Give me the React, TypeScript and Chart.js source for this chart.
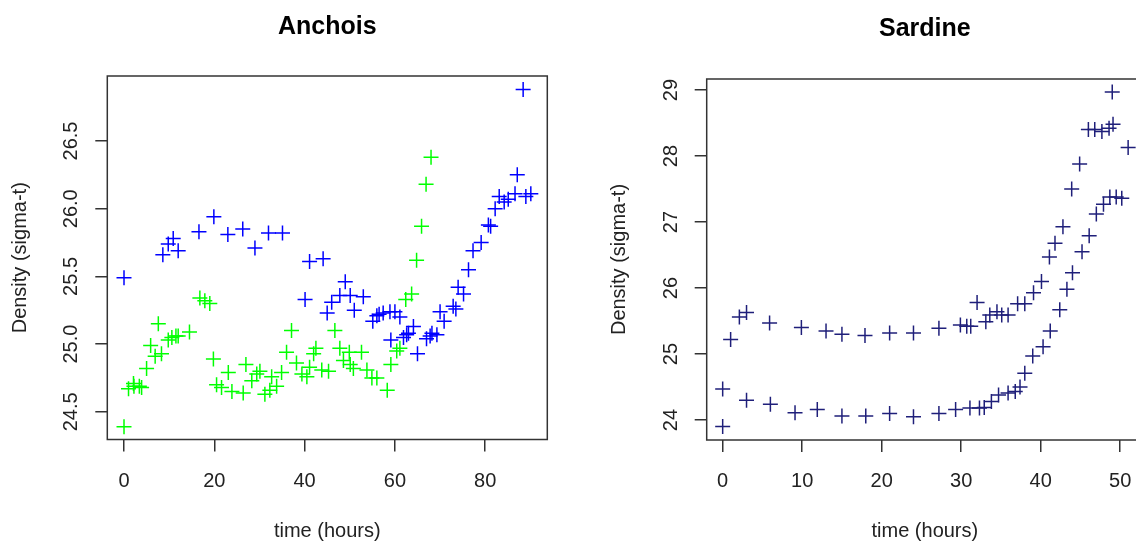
import React, { useEffect, useRef } from "react";
import { Chart, registerables } from "chart.js";

Chart.register(...registerables);

const FONT = '"Liberation Sans", Arial, Helvetica, sans-serif';

// ---------- Anchois ----------
const anchoisBlueTime = [0, 8.6, 9.8, 10.9, 12.0, 16.6, 19.9, 23.0, 26.3, 29.0, 32.0, 35.1, 40.1, 41.1, 44.1, 45.0, 46.0, 47.8, 49.0, 50.1, 51.0, 53.0, 55.1, 56.0, 56.5, 57.4, 58.9, 59.1, 60.0, 61.1, 61.9, 62.6, 63.0, 64.1, 65.0, 67.0, 67.8, 68.2, 69.3, 70.0, 70.9, 72.9, 73.5, 74.0, 75.2, 76.3, 77.3, 79.1, 80.7, 81.2, 82.2, 83.1, 84.2, 85.1, 86.6, 87.1, 88.4, 89.0, 90.1];
const anchoisBlueDensity = [25.49, 25.66, 25.74, 25.78, 25.69, 25.83, 25.94, 25.81, 25.85, 25.71, 25.82, 25.82, 25.33, 25.61, 25.63, 25.23, 25.31, 25.36, 25.46, 25.36, 25.25, 25.35, 25.17, 25.21, 25.22, 25.23, 25.24, 25.03, 25.24, 25.20, 25.05, 25.07, 25.08, 25.13, 24.93, 25.04, 25.06, 25.08, 25.07, 25.24, 25.17, 25.28, 25.26, 25.42, 25.37, 25.55, 25.69, 25.75, 25.88, 25.87, 26.00, 26.09, 26.05, 26.07, 26.11, 26.25, 26.88, 26.09, 26.11];

const anchoisGreenTime = [0, 1.0, 2.1, 2.2, 3.4, 3.9, 5.0, 5.9, 6.9, 7.6, 8.3, 9.8, 10.6, 11.5, 12.0, 14.5, 16.8, 17.9, 19.0, 19.8, 20.5, 21.6, 23.1, 23.9, 26.4, 27.0, 28.3, 29.4, 30.1, 31.2, 32.3, 32.7, 33.8, 34.9, 36.0, 37.1, 38.2, 39.4, 40.5, 41.1, 42.0, 42.5, 43.8, 45.3, 46.7, 47.8, 48.6, 49.9, 50.1, 50.8, 52.6, 53.8, 54.9, 56.0, 58.3, 59.1, 60.4, 61.1, 62.4, 63.7, 64.8, 65.9, 66.9, 68.0];
const anchoisGreenDensity = [24.39, 24.67, 24.71, 24.69, 24.69, 24.68, 24.82, 24.99, 24.91, 25.15, 24.93, 25.03, 25.05, 25.06, 25.06, 25.09, 25.34, 25.32, 25.30, 24.89, 24.70, 24.68, 24.79, 24.65, 24.64, 24.85, 24.73, 24.78, 24.80, 24.63, 24.66, 24.76, 24.69, 24.79, 24.94, 25.10, 24.86, 24.78, 24.76, 24.83, 24.93, 24.97, 24.81, 24.80, 25.10, 24.97, 24.88, 24.94, 24.85, 24.82, 24.94, 24.81, 24.75, 24.75, 24.66, 24.85, 24.95, 24.97, 25.33, 25.37, 25.62, 25.87, 26.18, 26.38];

const anchoisXTicks = [0, 20, 40, 60, 80];
const anchoisXLabels = ["0", "20", "40", "60", "80"];
const anchoisYTicks = [24.5, 25.0, 25.5, 26.0, 26.5];
const anchoisYLabels = ["24.5", "25.0", "25.5", "26.0", "26.5"];

// ---------- Sardine ----------
const sardineUpperTime = [0, 1.0, 2.1, 3.0, 5.9, 9.9, 13.0, 15.0, 17.9, 21.0, 24.0, 27.2, 29.9, 30.7, 31.2, 32.0, 33.1, 33.6, 34.5, 35.1, 35.9, 37.1, 38.0, 39.1, 40.1, 41.1, 41.8, 42.8, 43.9, 44.9, 46.0, 46.8, 47.7, 48.6, 49.0, 49.1, 51.0];
const sardineUpperDensity = [24.47, 25.22, 25.56, 25.63, 25.47, 25.40, 25.35, 25.30, 25.28, 25.32, 25.32, 25.39, 25.44, 25.42, 25.42, 25.78, 25.49, 25.59, 25.64, 25.59, 25.59, 25.76, 25.76, 25.93, 26.10, 26.47, 26.68, 26.93, 27.50, 27.88, 28.40, 28.40, 28.37, 28.42, 28.97, 28.48, 28.13];

const sardineLowerTime = [0, 3.0, 6.0, 9.1, 11.9, 15.0, 18.0, 21.0, 24.0, 27.2, 29.3, 31.1, 32.3, 32.9, 33.8, 34.7, 35.9, 36.8, 37.4, 38.0, 39.0, 40.3, 41.2, 42.4, 43.3, 44.0, 45.2, 46.1, 47.0, 47.9, 48.7, 49.5, 50.2];
const sardineLowerDensity = [23.90, 24.30, 24.24, 24.11, 24.16, 24.06, 24.06, 24.10, 24.05, 24.10, 24.16, 24.18, 24.18, 24.19, 24.28, 24.38, 24.41, 24.43, 24.50, 24.71, 24.97, 25.11, 25.35, 25.67, 25.98, 26.23, 26.55, 26.79, 27.12, 27.27, 27.38, 27.38, 27.36];

const sardineXTicks = [0, 10, 20, 30, 40, 50];
const sardineXLabels = ["0", "10", "20", "30", "40", "50"];
const sardineYTicks = [24, 25, 26, 27, 28, 29];
const sardineYLabels = ["24", "25", "26", "27", "28", "29"];

type Series = { x: number[]; y: number[]; color: string };
type PanelCfg = {
  title: string;
  titleY: number;
  series: Series[];
  xMin: number; xMax: number; yMin: number; yMax: number;
  xTicks: number[]; xLabels: string[]; yTicks: number[]; yLabels: string[];
  area: { left: number; right: number; top: number; bottom: number };
  width: number; height: number; offsetLeft: number;
};

const W = 600;
const H = 542;

const panels: PanelCfg[] = [
  {
    title: "Anchois",
    titleY: 34,
    series: [
      { x: anchoisBlueTime, y: anchoisBlueDensity, color: "#0000ff" },
      { x: anchoisGreenTime, y: anchoisGreenDensity, color: "#00ff00" },
    ],
    xMin: -3.7, xMax: 93.75, yMin: 24.296, yMax: 26.98,
    xTicks: anchoisXTicks, xLabels: anchoisXLabels, yTicks: anchoisYTicks, yLabels: anchoisYLabels,
    area: { left: 107.3, right: 547.3, top: 76, bottom: 439.5 },
    width: W, height: H, offsetLeft: 0,
  },
  {
    title: "Sardine",
    titleY: 36,
    series: [
      { x: sardineUpperTime, y: sardineUpperDensity, color: "#1f1f7a" },
      { x: sardineLowerTime, y: sardineLowerDensity, color: "#1f1f7a" },
    ],
    xMin: -2.01, xMax: 52.87, yMin: 23.697, yMax: 29.167,
    xTicks: sardineXTicks, xLabels: sardineXLabels, yTicks: sardineYTicks, yLabels: sardineYLabels,
    area: { left: 106.7, right: 543, top: 79, bottom: 440 },
    width: W, height: H, offsetLeft: 600,
  },
];

function Panel({ cfg }: { cfg: PanelCfg }) {
  const ref = useRef<HTMLCanvasElement | null>(null);
  useEffect(() => {
    const canvas = ref.current;
    if (!canvas) return;
    const frame = {
      id: "rframe",
      afterDraw(chart: any) {
        const ctx = chart.ctx;
        const a = chart.chartArea;
        const xs = chart.scales.x;
        const ys = chart.scales.y;
        const cx = (a.left + a.right) / 2;
        const cy = (a.top + a.bottom) / 2;
        ctx.save();
        ctx.strokeStyle = "#333";
        ctx.lineWidth = 1.5;
        ctx.strokeRect(a.left, a.top, a.right - a.left, a.bottom - a.top);

        ctx.fillStyle = "#000";
        ctx.textAlign = "center";
        ctx.textBaseline = "alphabetic";
        ctx.font = `bold 25px ${FONT}`;
        ctx.fillText(cfg.title, cx, cfg.titleY);

        ctx.fillStyle = "#222";
        ctx.font = `20px ${FONT}`;
        cfg.xTicks.forEach((v, i) => {
          ctx.fillText(cfg.xLabels[i], xs.getPixelForValue(v), a.bottom + 47);
        });
        cfg.yTicks.forEach((v, i) => {
          ctx.save();
          ctx.translate(a.left - 30, ys.getPixelForValue(v));
          ctx.rotate(-Math.PI / 2);
          ctx.fillText(cfg.yLabels[i], 0, 0);
          ctx.restore();
        });
        ctx.fillText("time (hours)", cx, 537);
        ctx.save();
        ctx.translate(a.left - 81.3, cy);
        ctx.rotate(-Math.PI / 2);
        ctx.fillText("Density (sigma-t)", 0, 0);
        ctx.restore();
        ctx.restore();
      },
    };

    const tickGrid = {
      drawOnChartArea: false,
      drawTicks: true,
      tickLength: 12,
      color: "#333",
      lineWidth: 1.5,
    };

    const chart = new Chart(canvas, {
      type: "scatter",
      data: {
        datasets: cfg.series.map((s) => ({
          data: s.x.map((x, i) => ({ x, y: s.y[i] })),
          pointStyle: "cross",
          pointRadius: 7.5,
          pointBorderWidth: 1.5,
          pointBorderColor: s.color,
          pointBackgroundColor: s.color,
          borderColor: s.color,
          backgroundColor: s.color,
          showLine: false,
        })),
      },
      options: {
        animation: false,
        responsive: false,
        events: [],
        layout: {
          padding: {
            left: 0,
            top: cfg.area.top,
            right: cfg.width - cfg.area.right,
            bottom: 0,
          },
        },
        plugins: {
          legend: { display: false },
          tooltip: { enabled: false },
          title: { display: false },
        },
        scales: {
          x: {
            type: "linear",
            min: cfg.xMin,
            max: cfg.xMax,
            afterBuildTicks: (s: any) => {
              s.ticks = cfg.xTicks.map((v) => ({ value: v }));
            },
            afterFit: (s: any) => {
              s.height = cfg.height - cfg.area.bottom;
            },
            ticks: { display: false, autoSkip: false },
            grid: tickGrid,
            border: { display: false },
          },
          y: {
            type: "linear",
            min: cfg.yMin,
            max: cfg.yMax,
            afterBuildTicks: (s: any) => {
              s.ticks = cfg.yTicks.map((v) => ({ value: v }));
            },
            afterFit: (s: any) => {
              s.width = cfg.area.left;
            },
            ticks: { display: false, autoSkip: false },
            grid: tickGrid,
            border: { display: false },
          },
        },
      } as any,
      plugins: [frame],
    });
    return () => chart.destroy();
  }, [cfg]);

  return (
    <canvas
      ref={ref}
      width={cfg.width}
      height={cfg.height}
      style={{
        position: "absolute",
        left: cfg.offsetLeft,
        top: 0,
        width: cfg.width,
        height: cfg.height,
      }}
    />
  );
}

export default function App() {
  return (
    <div
      style={{
        position: "fixed",
        left: 0,
        top: 0,
        width: 1136,
        height: 542,
        overflow: "hidden",
        background: "#fff",
      }}
    >
      {panels.map((p) => (
        <Panel key={p.title} cfg={p} />
      ))}
    </div>
  );
}
